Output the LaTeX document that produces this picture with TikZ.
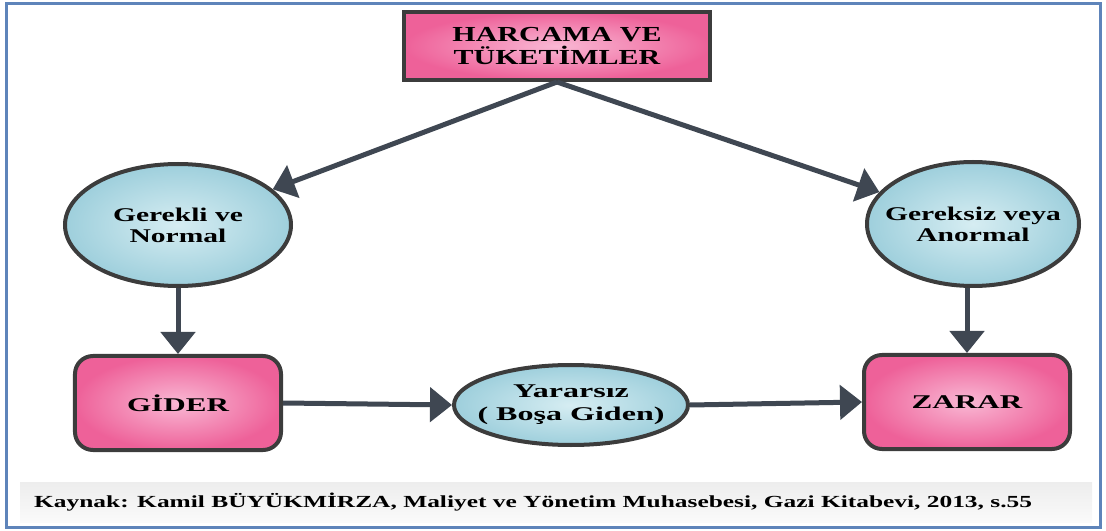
\documentclass[tikz,border=0pt]{standalone}
\usepackage{fontspec}
\setmainfont{Liberation Serif}[FakeStretch=1.4]
\newfontfamily\serifcirc{Liberation Serif}[FakeStretch=1.52]
\newfontfamily\serifbox{Liberation Serif}[FakeStretch=1.6]
\newfontfamily\serifwide{Liberation Serif}[FakeStretch=1.65]
\newfontfamily\serifsrc{Liberation Serif}[FakeStretch=1.5]
\usepackage{xcolor}
\usepackage{tikz}
\usetikzlibrary{arrows.meta,shapes.geometric}

\definecolor{pinkin}{HTML}{F9B8D4}
\definecolor{pinkout}{HTML}{EE6199}
\definecolor{bluein}{HTML}{D6EDF2}
\definecolor{blueout}{HTML}{9ECFDC}
\definecolor{edgegray}{HTML}{3C3C3C}
\definecolor{arrowgray}{HTML}{3F4752}
\definecolor{framecol}{HTML}{5E84BA}

\tikzset{
  pinkbox/.style={draw=edgegray,line width=4bp,shading=radial,inner color=pinkin,outer color=pinkout,
    minimum width=206bp,minimum height=94bp,inner sep=0pt,align=center,font=\serifbox\bfseries\fontsize{19.5}{21}\selectfont},
  bluecirc/.style={ellipse,draw=edgegray,line width=4bp,shading=radial,inner color=bluein,outer color=blueout,
    inner ysep=0pt,inner xsep=-30bp,align=center,font=\serifcirc\bfseries\fontsize{19.5}{21}\selectfont},
  flow/.style={draw=arrowgray,line width=5bp,-{Triangle[length=22bp,width=34bp]}},
}

\begin{document}
\begin{tikzpicture}[x=1bp,y=-1bp]
\useasboundingbox (0,0) rectangle (1106,531);
\draw[framecol,line width=3bp] (6,4) rectangle (1100,527);
% boxes and circles
\node[pinkbox,minimum width=306bp,minimum height=68bp,font=\bfseries\fontsize{21.5}{23}\selectfont] (harcama) at (557,46) {HARCAMA VE\\TÜKETİMLER};
\node[bluecirc,minimum width=226bp,minimum height=122bp] (gerekli) at (178,225) {Gerekli ve\\Normal};
\node[bluecirc,minimum width=212bp,minimum height=124bp] (anormal) at (973,224) {Gereksiz veya\\Anormal};
\node[pinkbox,rounded corners=18bp] (gider) at (178,403) {GİDER};
\node[pinkbox,rounded corners=18bp] (zarar) at (967,402) {ZARAR};
\node[bluecirc,minimum width=234bp,minimum height=80bp,font=\serifwide\bfseries\fontsize{19.5}{23}\selectfont] (yararsiz) at (571,405) {Yararsız\\( Boşa Giden)};
% arrows
\draw[flow] (harcama.south) -- (gerekli);
\draw[flow] (harcama.south) -- (anormal);
\draw[flow] (gerekli) -- (gider);
\draw[flow] (anormal.south -| zarar.north) -- (zarar.north);
\draw[flow] (gider.east) -- (yararsiz.west);
\draw[flow] (yararsiz.east) -- (zarar.west);
% source line
\shade[top color=gray!14,bottom color=gray!4] (20,482) rectangle (1092,522);
\node[anchor=west,inner sep=0pt,font=\serifsrc\bfseries\fontsize{17}{19}\selectfont] (kaynak) at (34,502) {Kaynak: Kamil BÜYÜKMİRZA, Maliyet ve Yönetim Muhasebesi, Gazi Kitabevi, 2013, s.55};
\end{tikzpicture}
\end{document}
